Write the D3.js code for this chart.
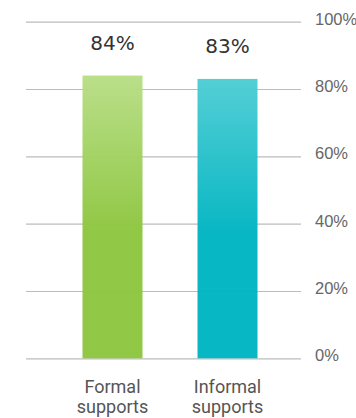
<!DOCTYPE html>
<html>
<head>
<meta charset="utf-8">
<script src="https://cdn.jsdelivr.net/npm/d3@7"></script>
<style>
  body { margin: 0; background: #fff; }
  svg { display: block; font-family: Roboto, sans-serif; }
</style>
</head>
<body>
<div id="chart"></div>
<script>
const categories = [["Formal", "supports"], ["Informal", "supports"]];
const values = [84, 83];
const valueLabels = ["84%", "83%"];
const ticks = [0, 20, 40, 60, 80, 100];
const tickLabels = ["0%", "20%", "40%", "60%", "80%", "100%"];

const width = 356, height = 418;
const svg = d3.select('#chart').append('svg')
    .attr('width', width)
    .attr('height', height);

const keys = categories.map(d => d.join(' '));

const x = d3.scaleBand()
    .domain(keys)
    .range([55, 285])
    .paddingInner(55 / 115)
    .paddingOuter(55 / 230);

const y = d3.scaleLinear()
    .domain([0, 100])
    .range([358.3, 21.7]);

// gradients
const defs = svg.append('defs');
const grads = [
    { id: 'g0', top: '#b8de86', bottom: '#8dc63f' },
    { id: 'g1', top: '#4fcdd4', bottom: '#00b5c2' }
];
grads.forEach(g => {
    let lg = defs.append('linearGradient')
        .attr('id', g.id)
        .attr('x1', 0).attr('y1', 0)
        .attr('x2', 0).attr('y2', 1);
    lg.append('stop').attr('offset', '0%').attr('stop-color', g.top);
    lg.append('stop').attr('offset', '55%').attr('stop-color', g.bottom);
    lg.append('stop').attr('offset', '100%').attr('stop-color', g.bottom);
});

// grid + right axis labels
const yAxis = d3.axisRight(y)
    .tickValues(ticks)
    .tickSize(-275)
    .tickPadding(14)
    .tickFormat((d, i) => tickLabels[i]);

const ag = svg.append('g')
    .attr('transform', 'translate(301,0)')
    .call(yAxis);
ag.select('.domain').remove();
ag.selectAll('line').attr('stroke', '#bcbcbc').attr('stroke-width', 1.2);
ag.selectAll('text')
    .attr('fill', '#666')
    .attr('font-size', 16.5)
    .attr('dy', '0.15em');

// bars
svg.selectAll('rect.bar')
    .data(values)
    .join('rect')
    .attr('class', 'bar')
    .attr('x', (d, i) => x(keys[i]))
    .attr('y', d => y(d))
    .attr('width', x.bandwidth())
    .attr('height', d => y(0) - y(d))
    .attr('fill', (d, i) => 'url(#g' + i + ')')
    .attr('fill-opacity', 0.97);

// value labels
svg.selectAll('text.val')
    .data(values)
    .join('text')
    .attr('class', 'val')
    .attr('x', (d, i) => x(keys[i]) + x.bandwidth() / 2)
    .attr('y', d => y(d) - 26)
    .attr('text-anchor', 'middle')
    .attr('fill', '#333')
    .attr('font-family', '"DejaVu Sans", sans-serif')
    .attr('font-size', 20)
    .text((d, i) => valueLabels[i]);

// category labels
const cat = svg.selectAll('text.cat')
    .data(categories)
    .join('text')
    .attr('class', 'cat')
    .attr('text-anchor', 'middle')
    .attr('fill', '#555')
    .attr('font-size', 18);
cat.selectAll('tspan')
    .data((d, i) => d.map(s => ({ s, i })))
    .join('tspan')
    .attr('x', d => x(keys[d.i]) + x.bandwidth() / 2)
    .attr('y', (d, j) => 392.5 + j * 20.6)
    .text(d => d.s);
</script>
</body>
</html>
